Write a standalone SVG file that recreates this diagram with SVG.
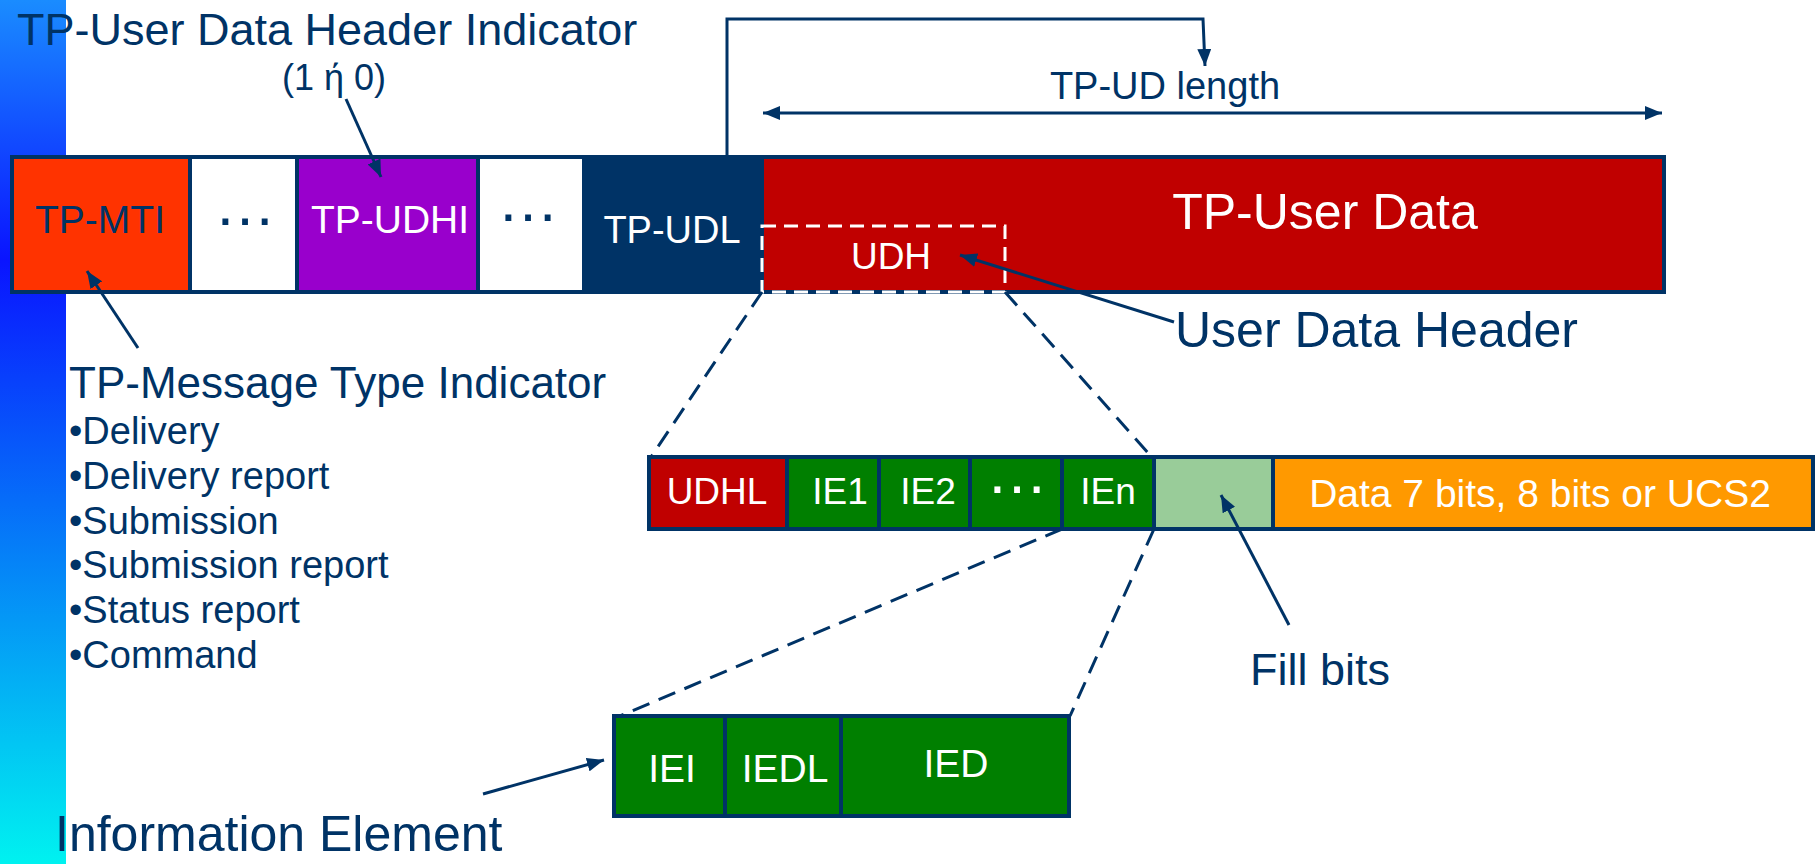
<svg xmlns="http://www.w3.org/2000/svg" width="1816" height="864" viewBox="0 0 1816 864">
<defs>
<linearGradient id="bar" x1="0" y1="0" x2="0" y2="1">
<stop offset="0" stop-color="#1a8cff"/>
<stop offset="0.3" stop-color="#0a14ff"/>
<stop offset="1" stop-color="#00f2f0"/>
</linearGradient>
<marker id="ah" markerWidth="17" markerHeight="14" refX="17" refY="7" orient="auto-start-reverse" markerUnits="userSpaceOnUse">
<path d="M0,0 L17,7 L0,14 z" fill="#003366"/>
</marker>
<style>
.box{stroke:#003366;stroke-width:4}
.t{font-family:"Liberation Sans",Arial,sans-serif;fill:#003366}
.w{font-family:"Liberation Sans",Arial,sans-serif;fill:#ffffff}
.c{text-anchor:middle}
.conn{stroke:#003366;stroke-width:3;fill:none}
.dash{stroke:#003366;stroke-width:3;fill:none;stroke-dasharray:18 10}
</style>
</defs>
<rect x="0" y="0" width="1816" height="864" fill="#ffffff"/>
<rect x="0" y="0" width="66" height="864" fill="url(#bar)"/>

<g id="tp-mti"><rect class="box" x="12" y="157" width="178" height="135" fill="#ff3300"/><text class="t c" x="100" y="233" font-size="39">TP-MTI</text></g>
<g id="gap1"><rect class="box" x="190" y="157" width="107" height="135" fill="#ffffff"/><text class="t c" x="245" y="225" font-size="62">…</text></g>
<g id="tp-udhi"><rect class="box" x="297" y="157" width="181" height="135" fill="#9900cc"/><text class="w c" x="390" y="233" font-size="39">TP-UDHI</text></g>
<g id="gap2"><rect class="box" x="478" y="157" width="106" height="135" fill="#ffffff"/><text class="t c" x="528" y="221" font-size="62">…</text></g>
<g id="tp-udl"><rect class="box" x="584" y="157" width="178" height="135" fill="#003366"/><text class="w c" x="672" y="243" font-size="38">TP-UDL</text></g>
<g id="tp-ud"><rect class="box" x="762" y="157" width="902" height="135" fill="#c00000"/><text class="w c" x="1325" y="229" font-size="50">TP-User Data</text></g>
<g id="udh"><rect x="762" y="226" width="243" height="66" fill="none" stroke="#ffffff" stroke-width="3" stroke-dasharray="14 8"/><text class="w c" x="891" y="269" font-size="37">UDH</text></g>

<g id="udhl"><rect class="box" x="649" y="457" width="138" height="72" fill="#c00000"/><text class="w c" x="717" y="504" font-size="37">UDHL</text></g>
<g id="ie1"><rect class="box" x="787" y="457" width="92" height="72" fill="#007f00"/><text class="w c" x="840" y="504" font-size="37">IE1</text></g>
<g id="ie2"><rect class="box" x="879" y="457" width="91" height="72" fill="#007f00"/><text class="w c" x="928" y="504" font-size="37">IE2</text></g>
<g id="iedots"><rect class="box" x="970" y="457" width="92" height="72" fill="#007f00"/><text class="w c" x="1017" y="493" font-size="62">…</text></g>
<g id="ien"><rect class="box" x="1062" y="457" width="92" height="72" fill="#007f00"/><text class="w c" x="1108" y="504" font-size="37">IEn</text></g>
<g id="fill"><rect class="box" x="1154" y="457" width="119" height="72" fill="#99cc99"/></g>
<g id="data"><rect class="box" x="1273" y="457" width="540" height="72" fill="#ff9900"/><text class="w c" x="1540" y="507" font-size="39">Data 7 bits, 8 bits or UCS2</text></g>

<g id="iei"><rect class="box" x="614" y="716" width="111" height="100" fill="#007f00"/><text class="w c" x="672" y="782" font-size="39">IEI</text></g>
<g id="iedl"><rect class="box" x="725" y="716" width="116" height="100" fill="#007f00"/><text class="w c" x="785" y="782" font-size="39">IEDL</text></g>
<g id="ied"><rect class="box" x="841" y="716" width="228" height="100" fill="#007f00"/><text class="w c" x="956" y="777" font-size="39">IED</text></g>

<g id="labels">
<text class="t" x="17" y="45" font-size="45">TP-User Data Header Indicator</text>
<text class="t c" x="334" y="90" font-size="36">(1 ή 0)</text>
<text class="t c" x="1165" y="99" font-size="38">TP-UD length</text>
<text class="t" x="1175" y="347" font-size="50">User Data Header</text>
<text class="t" x="69" y="398" font-size="44">TP-Message Type Indicator</text>
<text class="t" x="69" y="444" font-size="38">•Delivery</text>
<text class="t" x="69" y="489" font-size="38">•Delivery report</text>
<text class="t" x="69" y="534" font-size="38">•Submission</text>
<text class="t" x="69" y="578" font-size="38">•Submission report</text>
<text class="t" x="69" y="623" font-size="38">•Status report</text>
<text class="t" x="69" y="668" font-size="38">•Command</text>
<text class="t" x="1250" y="685" font-size="45">Fill bits</text>
<text class="t" x="55" y="851" font-size="50">Information Element</text>
</g>

<g id="connectors">
<line class="dash" x1="762" y1="292" x2="651" y2="457"/>
<line class="dash" x1="1005" y1="292" x2="1150" y2="455"/>
<line class="dash" x1="1062" y1="529" x2="620" y2="716"/>
<line class="dash" x1="1154" y1="529" x2="1070" y2="716"/>
<path class="conn" d="M727,155 V19 H1203 L1205,66" marker-end="url(#ah)"/>
<line class="conn" x1="763" y1="113" x2="1662" y2="113" marker-start="url(#ah)" marker-end="url(#ah)"/>
<line class="conn" x1="346" y1="99" x2="381" y2="177" marker-end="url(#ah)"/>
<line class="conn" x1="138" y1="348" x2="87" y2="271" marker-end="url(#ah)"/>
<line class="conn" x1="1174" y1="322" x2="960" y2="255" marker-end="url(#ah)"/>
<line class="conn" x1="1289" y1="625" x2="1221" y2="495" marker-end="url(#ah)"/>
<line class="conn" x1="483" y1="794" x2="604" y2="760" marker-end="url(#ah)"/>
</g>
</svg>
